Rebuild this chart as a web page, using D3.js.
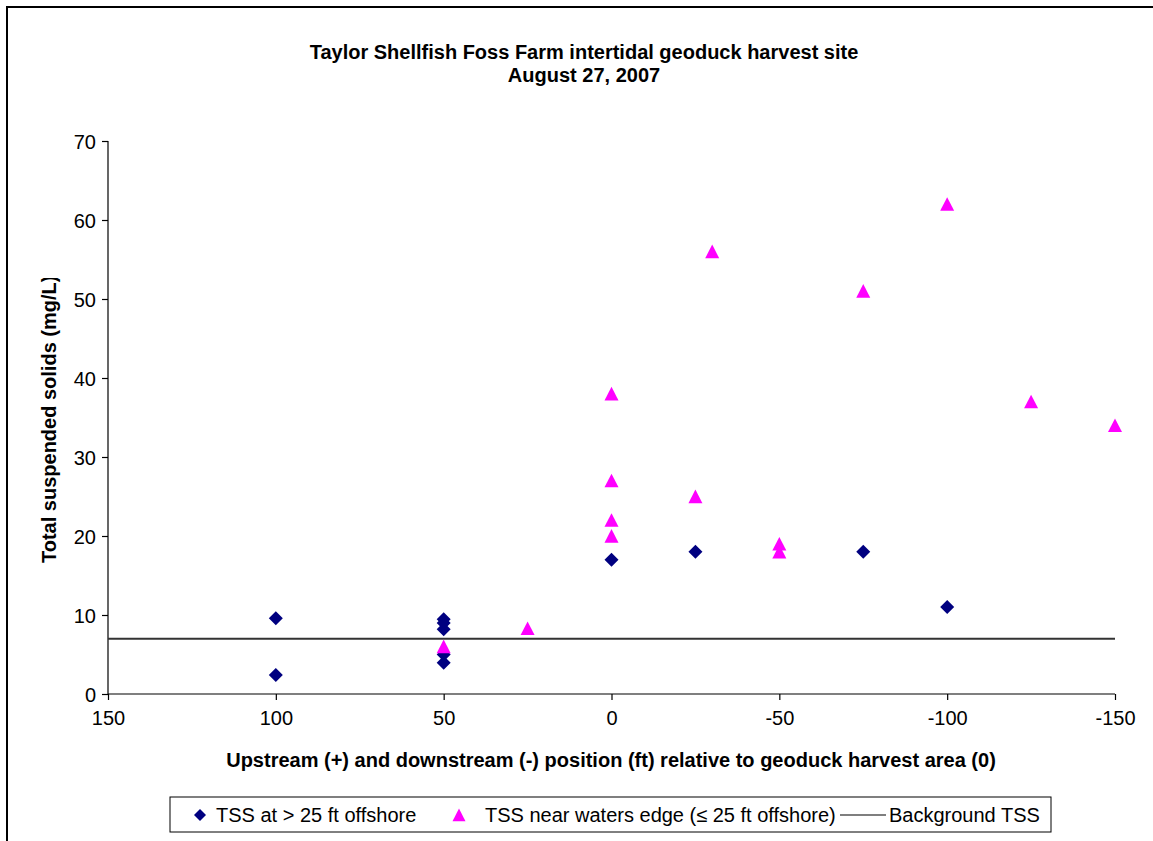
<!DOCTYPE html>
<html>
<head>
<meta charset="utf-8">
<script src="https://cdn.jsdelivr.net/npm/d3@7"></script>
<style>
  body { margin: 0; background: #fff; }
  svg { display: block; font-family: "Liberation Sans", Arial, sans-serif; }
</style>
</head>
<body>
<svg id="chart" width="1153" height="841"></svg>
<script>
// ---- Data ----
const titleLines = ["Taylor Shellfish Foss Farm intertidal geoduck harvest site", "August 27, 2007"];
const xTicks = [150, 100, 50, 0, -50, -100, -150];
const yTicks = [0, 10, 20, 30, 40, 50, 60, 70];

const offshoreX = [100, 100, 50, 50, 50, 50, 50, 0, -25, -75, -100];
const offshoreY = [9.6, 2.4, 9.45, 9.0, 8.2, 5.0, 3.95, 17, 18, 18, 11];

const nearX = [50, 25, 0, 0, 0, 0, -25, -30, -50, -50, -75, -100, -125, -150];
const nearY = [6, 8.3, 38, 27, 22, 20, 25, 56, 19, 18, 51, 62, 37, 34];

const backgroundX = [150, -150];
const backgroundY = [7, 7];

const seriesNames = ["TSS at > 25 ft offshore", "TSS near waters edge (\u2264 25 ft offshore)", "Background TSS"];

// ---- Chart ----
const svg = d3.select("#chart");
const W = 1153, H = 841;
const plot = { left: 108, right: 1115, top: 141, bottom: 694 };
const FS = 20;

const x = d3.scaleLinear().domain([150, -150]).range([plot.left, plot.right]);
const y = d3.scaleLinear().domain([0, 70]).range([plot.bottom, plot.top]);

// outer frame (only top and left visible in reference)
svg.append("rect").attr("x", 7).attr("y", 7).attr("width", W + 20).attr("height", H + 20)
  .attr("fill", "none").attr("stroke", "#000").attr("stroke-width", 2);

// title
svg.append("text").attr("text-anchor", "middle")
  .attr("font-weight", "bold").attr("font-size", FS)
  .selectAll("tspan").data(titleLines).join("tspan")
  .attr("x", 584).attr("y", (d, i) => 59 + i * 23).text(d => d);

// axes
const yAxis = d3.axisLeft(y).tickValues(yTicks).tickSize(6).tickPadding(6);
const gy = svg.append("g").attr("transform", `translate(${plot.left},0)`).call(yAxis);
const xAxis = d3.axisBottom(x).tickValues(xTicks).tickFormat(d => String(d)).tickSize(6).tickPadding(11);
const gx = svg.append("g").attr("transform", `translate(0,${plot.bottom})`).call(xAxis);
[gx, gy].forEach(g => {
  g.select(".domain").attr("stroke", "#000").attr("stroke-width", 1.2);
  g.selectAll(".tick line").attr("stroke", "#000").attr("stroke-width", 1.2);
  g.selectAll(".tick text").attr("font-size", FS).attr("fill", "#000")
    .attr("font-family", "Liberation Sans, Arial, sans-serif");
});
gy.select(".domain").attr("d", `M0,${plot.bottom}V${plot.top}`);
gy.selectAll(".tick text").attr("dy", "0.35em");
gx.select(".domain").attr("d", `M${plot.left},0H${plot.right}`);

// axis titles
svg.append("text").attr("x", 611).attr("y", 767).attr("text-anchor", "middle")
  .attr("font-weight", "bold").attr("font-size", FS)
  .text("Upstream (+) and downstream (-) position (ft) relative to geoduck harvest area (0)");

svg.append("clipPath").attr("id", "yclip").append("rect")
  .attr("x", 0).attr("y", 278).attr("width", 100).attr("height", 400);
svg.append("g").attr("clip-path", "url(#yclip)")
  .append("text").attr("transform", "translate(56,563) rotate(-90)")
  .attr("text-anchor", "start").attr("font-weight", "bold").attr("font-size", FS)
  .text("Total suspended solids (mg/L)");

// background line
const bg = backgroundX.map((d, i) => [d, backgroundY[i]]);
svg.append("path").datum(bg)
  .attr("d", d3.line().x(d => x(d[0])).y(d => y(d[1])))
  .attr("stroke", "#333").attr("stroke-width", 2).attr("fill", "none");

// markers
const diamond = s => `M0,${-s}L${s},0L0,${s}L${-s},0Z`;
const triangle = s => `M0,${-s}L${s},${s * 0.95}L${-s},${s * 0.95}Z`;

const off = offshoreX.map((d, i) => [d, offshoreY[i]]);
svg.append("g").selectAll("path").data(off).join("path")
  .attr("transform", d => `translate(${x(d[0])},${y(d[1])})`)
  .attr("d", diamond(7)).attr("fill", "#000080");

const near = nearX.map((d, i) => [d, nearY[i]]);
svg.append("g").selectAll("path").data(near).join("path")
  .attr("transform", d => `translate(${x(d[0])},${y(d[1])})`)
  .attr("d", triangle(7)).attr("fill", "#FF00FF");

// legend
const lg = svg.append("g");
lg.append("rect").attr("x", 170).attr("y", 797).attr("width", 881).attr("height", 35)
  .attr("fill", "#fff").attr("stroke", "#000").attr("stroke-width", 1);
const ly = 815;
lg.append("path").attr("transform", `translate(200,${ly})`).attr("d", diamond(6)).attr("fill", "#000080");
lg.append("text").attr("x", 216).attr("y", ly).attr("dy", "0.35em").attr("font-size", FS).text(seriesNames[0]);
lg.append("path").attr("transform", `translate(459,${ly})`).attr("d", triangle(6.5)).attr("fill", "#FF00FF");
lg.append("text").attr("x", 485).attr("y", ly).attr("dy", "0.35em").attr("font-size", FS).text(seriesNames[1]);
lg.append("line").attr("x1", 840).attr("x2", 886).attr("y1", ly).attr("y2", ly).attr("stroke", "#000").attr("stroke-width", 1.2);
lg.append("text").attr("x", 889).attr("y", ly).attr("dy", "0.35em").attr("font-size", FS).text(seriesNames[2]);
</script>
</body>
</html>
